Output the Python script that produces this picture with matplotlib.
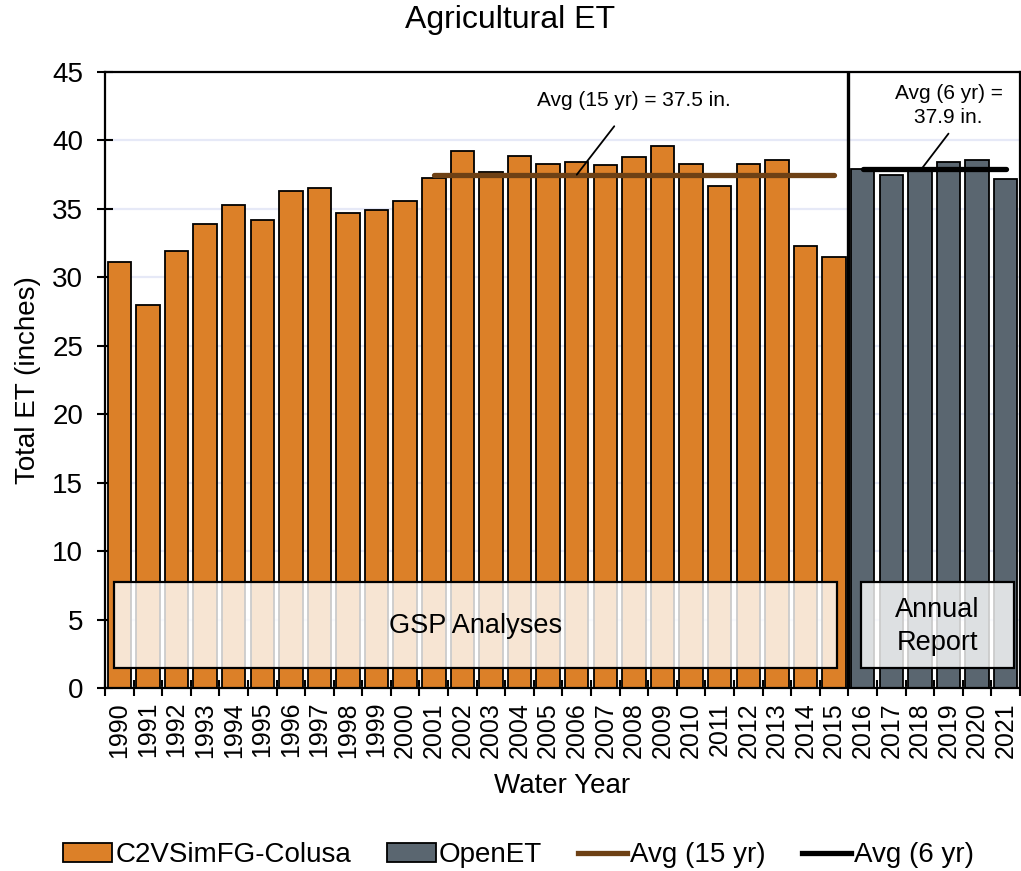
import matplotlib
matplotlib.use("Agg")
import matplotlib.pyplot as plt
from matplotlib.patches import Rectangle, Patch
from matplotlib.lines import Line2D
import numpy as np

plt.rcParams['font.family'] = ['Liberation Sans', 'DejaVu Sans']

# Water years and total ET (inches)
c2v_years = list(range(1990, 2016))
c2v_et = [31.1, 28.0, 31.9, 33.9, 35.3, 34.2, 36.3, 36.5, 34.7, 34.9,
          35.6, 37.25, 39.2, 37.7, 38.9, 38.25, 38.4, 38.2, 38.8, 39.6,
          38.3, 36.7, 38.25, 38.55, 32.3, 31.5]
openet_years = list(range(2016, 2022))
openet_et = [37.9, 37.5, 37.9, 38.4, 38.6, 37.15]

avg15 = 37.5
avg6 = 37.9
avg15_span = (2001, 2015)
avg6_span = (2016, 2021)

years = c2v_years + openet_years
year_labels = [str(y) for y in years]

orange = '#dc8028'
slate = '#5a6670'
brown = '#6e4115'

fig = plt.figure(figsize=(10.21, 8.71), dpi=100)
ax = fig.add_axes([0.1028, 0.2101, 0.8962, 0.7072])

pos = {y: i for i, y in enumerate(years)}
x_c2v = [pos[y] for y in c2v_years]
x_oet = [pos[y] for y in openet_years]

ax.bar(x_c2v, c2v_et, width=0.82, color=orange, edgecolor='black', linewidth=1.3, zorder=2)
ax.bar(x_oet, openet_et, width=0.82, color=slate, edgecolor='black', linewidth=1.3, zorder=2)

ax.set_xlim(-0.5, len(years) - 0.5)
ax.set_ylim(0, 45)
ax.set_yticks(np.arange(0, 46, 5))
ax.set_xticks(np.arange(len(years) + 1) - 0.5, minor=False)
ax.set_xticklabels([])
ax.set_xticks(np.arange(len(years)), minor=True)
ax.set_xticklabels(year_labels, minor=True, rotation=90, fontsize=18)
ax.tick_params(axis='x', which='minor', length=0, pad=10)
ax.tick_params(axis='x', which='major', direction='inout', length=11, width=1.5)
ax.tick_params(axis='y', direction='inout', length=11.5, width=1.5, labelsize=20, pad=10)

ax.yaxis.grid(True, color='#e6e9f7', linewidth=1.6, zorder=0)
ax.set_axisbelow(True)
for s in ax.spines.values():
    s.set_linewidth(1.6)

# divider between simulated and OpenET periods
ax.axvline(pos[2015] + 0.5, color='black', linewidth=2.4, zorder=4)

# period averages
ax.plot([pos[avg15_span[0]], pos[avg15_span[1]]], [avg15, avg15], color=brown,
        linewidth=3.8, solid_capstyle='round', zorder=5)
ax.plot([pos[avg6_span[0]], pos[avg6_span[1]]], [avg6, avg6], color='black',
        linewidth=3.8, solid_capstyle='round', zorder=5)

ax.annotate(f'Avg (15 yr) = {avg15:.1f} in.', xy=(pos[2006], avg15), xytext=(18.0, 42.9),
            ha='center', va='center', fontsize=15,
            arrowprops=dict(arrowstyle='-', color='black', linewidth=1.3, shrinkA=12, shrinkB=0),
            zorder=6)
# leader for the 6-yr label drawn as its own segment
ax.annotate('', xy=(28.05, avg6), xytext=(29.0, 40.5),
            arrowprops=dict(arrowstyle='-', color='black', linewidth=1.3, shrinkA=0, shrinkB=0),
            zorder=6)
ax.text(29.0, 42.55, f'Avg (6 yr) =\n{avg6:.1f} in.', ha='center', va='center',
        fontsize=15, linespacing=1.3, zorder=6)

# period labels
ax.add_patch(Rectangle((-0.19, 1.46), 25.28, 6.28, facecolor='white', alpha=0.8,
                       edgecolor='none', zorder=6))
ax.add_patch(Rectangle((-0.19, 1.46), 25.28, 6.28, facecolor='none',
                       edgecolor='black', linewidth=1.6, zorder=6))
ax.text(12.45, 4.5, 'GSP Analyses', ha='center', va='center', fontsize=19.5, zorder=7)
ax.add_patch(Rectangle((25.93, 1.46), 5.35, 6.28, facecolor='white', alpha=0.8,
                       edgecolor='none', zorder=6))
ax.add_patch(Rectangle((25.93, 1.46), 5.35, 6.28, facecolor='none',
                       edgecolor='black', linewidth=1.6, zorder=6))
ax.text(28.6, 4.5, 'Annual\nReport', ha='center', va='center', fontsize=19.5,
        linespacing=1.35, zorder=7)

ax.set_ylabel('Total ET (inches)', fontsize=20, labelpad=8)
ax.set_xlabel('Water Year', fontsize=20, labelpad=11)
fig.text(0.5, 0.977, 'Agricultural ET', ha='center', va='center', fontsize=23)

handles = [Patch(facecolor=orange, edgecolor='black', linewidth=1.3),
           Patch(facecolor=slate, edgecolor='black', linewidth=1.3),
           Line2D([], [], color=brown, linewidth=3.8),
           Line2D([], [], color='black', linewidth=3.8)]
fig.legend(handles, ['C2VSimFG-Colusa', 'OpenET', 'Avg (15 yr)', 'Avg (6 yr)'],
           loc='center', bbox_to_anchor=(0.508, 0.018), ncol=4, frameon=False,
           fontsize=20, handlelength=1.75, handleheight=0.7, handletextpad=0.12,
           columnspacing=1.3, borderaxespad=0)

fig.savefig('out.png', dpi=100)
